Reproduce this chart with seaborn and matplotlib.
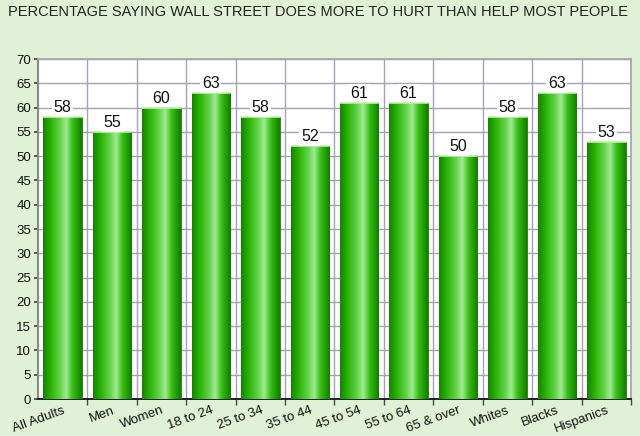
import matplotlib
matplotlib.use("Agg")
import matplotlib.pyplot as plt
from matplotlib.colors import LinearSegmentedColormap
import numpy as np
import pandas as pd
import seaborn as sns

groups = ["All Adults", "Men", "Women", "18 to 24", "25 to 34", "35 to 44",
          "45 to 54", "55 to 64", "65 & over", "Whites", "Blacks", "Hispanics"]
percent = [58, 55, 60, 63, 58, 52, 61, 61, 50, 58, 63, 53]

df = pd.DataFrame({"group": groups, "percent": percent})

sns.set_theme(style="white")
plt.rcParams['font.family'] = ['Liberation Sans', 'DejaVu Sans']

bg = "#e1f1d5"
fig = plt.figure(figsize=(6.4, 4.36), dpi=100, facecolor=bg)
ax = fig.add_axes([38 / 640, 1 - 399 / 436, 593 / 640, 340 / 436])
ax.set_facecolor("white")

sns.barplot(data=df, x="group", y="percent", ax=ax, color="#33bb11",
            width=0.78, saturation=1, zorder=3)

# cylinder-like shading for each bar
shade = LinearSegmentedColormap.from_list(
    "cyl", [(0, "#168400"), (0.2, "#2cb408"), (0.45, "#66d450"),
            (0.6, "#a2ea92"), (0.76, "#38c016"), (1, "#137e00")])
grad = np.linspace(0, 1, 64).reshape(1, -1)
for p in ax.patches:
    x0, w, h = p.get_x(), p.get_width(), p.get_height()
    p.set_edgecolor("#1c7a05")
    p.set_linewidth(0.6)
    im = ax.imshow(grad, cmap=shade, aspect="auto", extent=[x0, x0 + w, 0, h],
                   zorder=3.5, interpolation="bicubic")
    im.set_clip_path(p)
    ax.plot([x0, x0 + w], [h, h], color="#bff0a8", lw=1.2, zorder=4)

ax.set_xlim(-0.5, len(groups) - 0.5)
ax.set_ylim(0, 70)
ax.set_yticks(range(0, 71, 5))
ax.set_xticks(np.arange(len(groups)))
ax.set_xticks(np.arange(len(groups)) + 0.5, minor=True)

ax.grid(axis="y", which="major", color="#a4a4b6", lw=1, zorder=1)
ax.grid(axis="x", which="minor", color="#a4a4b6", lw=1, zorder=1)
ax.set_axisbelow(True)

for i, v in enumerate(percent):
    ax.text(i, v + 0.4, str(v), ha="center", va="bottom", fontsize=11.5,
            color="#111111", zorder=6,
            bbox=dict(boxstyle="square,pad=0.1", fc="white", ec="none"))

ax.set_xlabel("")
ax.set_ylabel("")
ax.set_xticklabels(groups, rotation=20, ha="right", rotation_mode="anchor",
                   fontsize=9.5, color="#111111")
ax.tick_params(axis="y", labelsize=9.5, colors="#111111", length=3, pad=2, left=True)
ax.tick_params(axis="x", which="major", length=0, pad=4)
ax.tick_params(axis="x", which="minor", length=4, bottom=True, color="#444444")
ax.tick_params(axis="y", color="#444444")

for side in ["top", "right"]:
    ax.spines[side].set_color("#a4a4b6")
ax.spines["left"].set_color("#888888")
ax.spines["left"].set_linewidth(1.5)
ax.spines["bottom"].set_color("#111111")
ax.spines["bottom"].set_linewidth(1.3)

fig.text(8 / 640, 1 - 12 / 436, "PERCENTAGE SAYING WALL STREET DOES MORE TO HURT THAN HELP MOST PEOPLE",
         ha="left", va="center", fontsize=10.5, color="#222222")

fig.savefig("out.png", dpi=100, facecolor=bg)
